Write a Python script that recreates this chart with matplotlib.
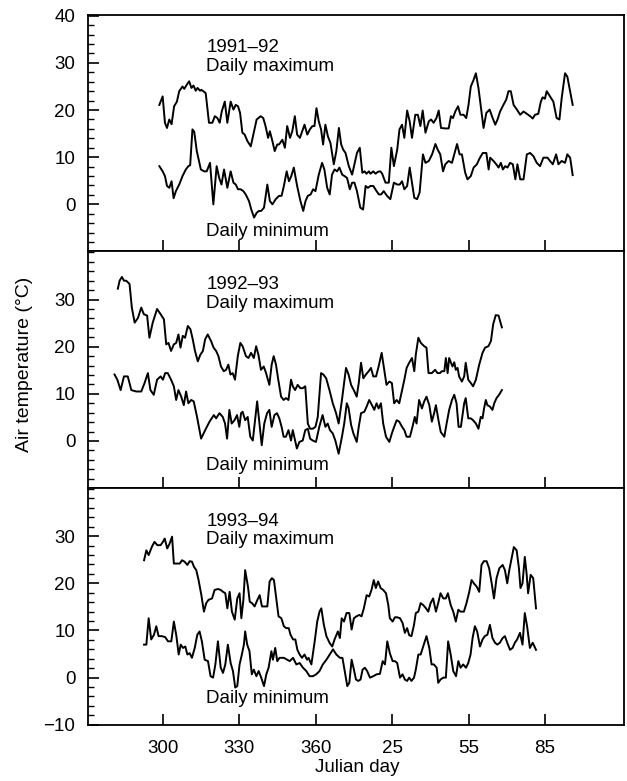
import matplotlib
matplotlib.use("Agg")
import matplotlib.pyplot as plt
from matplotlib.ticker import MultipleLocator, FixedLocator

# Daily air temperature (Julian day; days after 365 continue into next year)

# 1991-92
days_max_1 = [298.6, 299.9, 300.8, 301.6, 302.5, 303.4, 304.4, 305.5, 306.4, 307.7, 308.4, 309.4, 310.3,
              311.2, 312.0, 312.9, 313.6, 314.6, 315.1, 316.8, 318.1, 319.4, 320.4, 321.4, 322.3, 323.1,
              324.3, 325.3, 326.6, 327.7, 328.6, 329.5, 330.3, 331.2, 332.1, 333.2, 334.5, 335.8, 336.8,
              338.4, 339.4, 340.3, 341.3, 342.0, 343.0, 343.9, 344.9, 345.6, 346.9, 347.9, 348.8, 349.9,
              350.8, 351.8, 352.7, 353.8, 354.7, 355.6, 356.7, 357.7, 358.7, 359.5, 360.3, 361.2, 362.1,
              362.9, 363.8, 364.8, 365.8, 367.1, 368.1, 369.1, 370.0, 370.8, 371.7, 373.0, 374.3, 375.2,
              376.2, 377.3, 378.3, 379.2, 379.9, 380.9, 381.5, 382.6, 383.5, 384.4, 385.4, 386.1, 387.4,
              388.7, 389.7, 390.7, 392.0, 392.9, 393.9, 394.8, 395.9, 396.9, 397.8, 399.1, 400.1, 401.1,
              402.0, 403.1, 404.4, 405.3, 406.3, 407.4, 408.3, 409.2, 410.9, 412.2, 413.1, 413.9, 414.8,
              415.9, 416.8, 418.1, 419.1, 420.0, 420.9, 422.0, 422.9, 423.9, 424.9, 425.9, 427.0, 428.3,
              429.2, 430.5, 431.4, 432.4, 433.7, 434.8, 435.7, 436.6, 437.7, 439.0, 440.3, 441.6, 442.9,
              444.2, 445.2, 446.1, 447.4, 448.4, 449.1, 450.0, 450.7, 452.0, 453.3, 454.6, 455.7, 456.6,
              457.9, 458.8, 459.9, 460.9]
tmax_1 = [21.1, 22.9, 17.3, 16.2, 18.0, 17.0, 20.8, 21.8, 24.0, 25.0, 24.5, 25.4, 26.1,
          24.7, 25.2, 24.1, 24.7, 24.1, 24.3, 23.6, 17.3, 17.3, 18.7, 18.3, 17.3, 19.7,
          21.8, 17.3, 21.8, 20.1, 21.1, 20.8, 19.4, 15.2, 14.8, 13.4, 12.3, 15.5, 18.0,
          18.7, 18.3, 16.6, 14.1, 15.5, 13.4, 11.3, 12.7, 12.7, 13.7, 12.0, 16.6, 14.1,
          15.5, 18.7, 14.8, 14.1, 15.5, 16.9, 14.8, 15.9, 16.6, 16.6, 20.4, 17.6, 15.9,
          12.7, 16.9, 14.4, 13.0, 8.5, 11.3, 16.2, 12.7, 11.6, 10.9, 8.1, 6.3, 8.5,
          10.9, 12.0, 6.7, 7.0, 6.5, 7.0, 6.5, 7.0, 6.5, 6.9, 7.0, 6.5, 4.6,
          4.6, 12.0, 8.1, 11.6, 15.9, 16.9, 14.1, 19.9, 17.6, 14.1, 19.0, 19.0, 16.6,
          19.9, 15.2, 17.6, 18.0, 17.3, 18.3, 19.9, 16.2, 16.1, 16.1, 18.7, 18.3, 19.7,
          20.8, 19.0, 19.0, 18.3, 21.1, 25.0, 26.4, 27.8, 24.7, 20.4, 16.2, 19.4, 20.1,
          18.7, 16.9, 18.0, 19.7, 21.1, 22.2, 24.0, 24.0, 21.1, 20.1, 19.0, 19.7, 19.2,
          18.7, 18.2, 19.0, 19.2, 21.8, 22.7, 22.4, 24.0, 22.9, 21.8, 18.3, 18.0, 22.6,
          27.8, 27.1, 24.0, 21.1]
days_min_1 = [298.6, 299.9, 300.8, 301.6, 302.5, 303.4, 304.2, 305.1, 306.4, 307.7, 309.0, 310.0, 310.7,
              311.6, 312.3, 313.3, 314.9, 316.2, 317.2, 318.5, 319.8, 321.1, 322.1, 323.0, 324.0, 325.3,
              326.6, 327.7, 328.6, 329.5, 330.5, 331.6, 332.5, 333.8, 334.7, 335.8, 336.8, 337.7, 338.6,
              339.7, 341.0, 342.0, 343.0, 344.3, 345.6, 346.6, 347.5, 348.6, 349.5, 350.4, 351.4, 352.7,
              354.0, 355.1, 356.0, 356.9, 358.0, 359.0, 359.9, 361.2, 362.5, 363.4, 364.5, 365.5, 366.4,
              367.4, 368.4, 369.3, 370.4, 371.3, 372.3, 373.4, 374.3, 375.2, 376.2, 377.5, 378.6, 379.6,
              380.5, 381.5, 382.6, 383.9, 384.8, 385.7, 386.7, 388.0, 389.3, 390.7, 392.0, 393.0, 393.9,
              394.8, 395.9, 396.9, 397.8, 398.7, 399.8, 400.8, 402.1, 403.1, 404.4, 405.7, 407.0, 407.9,
              408.9, 410.0, 410.9, 412.2, 413.5, 414.4, 415.5, 416.5, 417.4, 418.7, 419.6, 420.9, 422.0,
              423.3, 424.3, 425.6, 427.0, 427.9, 428.5, 429.8, 430.9, 431.8, 432.7, 433.5, 434.4, 435.3,
              436.3, 437.4, 438.4, 439.2, 440.3, 441.6, 442.9, 444.2, 445.5, 446.8, 448.1, 449.4, 451.0,
              452.0, 453.1, 454.4, 455.3, 456.6, 457.9, 458.8, 459.9, 460.9]
tmin_1 = [8.1, 7.0, 6.0, 3.9, 3.5, 4.9, 1.3, 2.8, 4.2, 6.0, 7.4, 8.1, 8.3,
          15.9, 15.4, 11.3, 7.4, 7.0, 7.0, 8.8, 0.0, 8.1, 5.6, 4.2, 7.4, 3.5,
          7.0, 4.6, 4.2, 3.2, 3.2, 2.8, 2.1, 0.7, -1.1, -2.8, -1.8, -1.4, -1.4,
          -0.7, 4.2, 0.7, 0.0, 1.1, 1.8, 1.8, 3.9, 7.0, 4.9, 6.0, 7.8, 3.9,
          0.7, -1.4, 0.7, 1.8, 2.1, 3.2, 2.8, 6.3, 8.8, 7.4, 3.5, 2.1, 6.3,
          7.4, 7.0, 7.8, 6.3, 6.0, 5.6, 3.2, 4.6, 4.6, 2.8, -0.7, -1.1, 3.9,
          3.5, 3.9, 3.9, 2.8, 2.1, 2.1, 2.8, 1.8, 1.1, 4.6, 4.2, 4.2, 4.9,
          3.2, 3.9, 7.8, 4.6, 1.4, 1.1, 2.5, 10.6, 8.8, 9.2, 10.6, 12.8, 11.6,
          10.6, 7.0, 8.5, 9.2, 8.8, 10.6, 12.8, 10.6, 10.6, 6.7, 5.3, 6.0, 7.8,
          8.5, 9.7, 10.9, 10.9, 7.4, 9.9, 9.2, 8.5, 7.8, 8.8, 7.4, 8.1, 7.8,
          8.8, 8.5, 5.3, 8.5, 5.3, 5.3, 10.6, 10.9, 10.2, 8.8, 8.1, 9.9, 9.9,
          9.2, 8.5, 10.6, 8.5, 9.2, 8.8, 10.6, 9.9, 6.2]

# 1992-93
days_max_2 = [282.3, 283.0, 283.9, 284.7, 285.6, 286.9, 287.8, 288.9, 290.2, 291.5, 292.5, 293.8, 294.7,
              296.0, 297.7, 299.1, 300.4, 301.3, 302.2, 303.2, 304.3, 305.2, 306.1, 306.9, 307.8, 308.7,
              309.8, 310.8, 311.7, 312.6, 313.7, 314.7, 315.7, 316.6, 317.6, 318.9, 319.9, 320.9, 321.8,
              322.8, 323.9, 324.8, 325.7, 326.5, 327.4, 328.3, 329.4, 330.4, 331.3, 332.6, 333.6, 334.6,
              335.7, 336.6, 337.5, 338.5, 339.6, 340.5, 341.8, 342.7, 343.5, 344.4, 345.3, 346.4, 347.4,
              348.3, 349.3, 350.3, 351.0, 351.9, 352.9, 354.0, 354.9, 355.9, 356.9, 357.8, 358.8, 359.9,
              360.8, 362.1, 363.0, 364.1, 365.4, 366.7, 368.0, 369.0, 370.3, 371.9, 372.9, 373.9, 375.2,
              376.1, 376.9, 377.8, 378.7, 379.7, 380.8, 381.7, 382.6, 383.7, 384.7, 385.9, 386.9, 387.8,
              388.9, 389.9, 390.8, 391.8, 392.8, 393.9, 394.8, 395.7, 396.7, 397.8, 398.7, 399.3, 400.3,
              401.3, 402.6, 403.5, 404.3, 405.6, 406.9, 407.8, 408.8, 409.5, 410.5, 411.1, 411.8, 412.4,
              413.1, 413.7, 414.4, 415.0, 415.7, 416.3, 417.4, 418.3, 418.9, 419.9, 420.9, 421.8, 422.9,
              424.2, 425.5, 426.5, 427.8, 428.8, 429.7, 430.7, 431.8, 433.1]
tmax_2 = [32.3, 34.0, 34.8, 34.0, 34.0, 33.3, 28.3, 25.1, 26.1, 28.3, 26.9, 26.6, 21.9,
          25.1, 28.0, 26.9, 25.8, 20.5, 20.8, 19.1, 20.5, 20.8, 22.6, 19.8, 22.3, 21.9,
          24.4, 23.7, 21.6, 19.1, 16.9, 18.3, 19.1, 21.6, 22.6, 21.2, 19.8, 19.1, 18.0,
          15.8, 14.8, 15.1, 16.2, 14.1, 14.4, 13.0, 18.0, 20.8, 20.1, 18.0, 17.6, 18.7,
          17.6, 20.1, 18.3, 15.1, 15.8, 14.4, 11.9, 16.2, 18.0, 16.2, 13.0, 9.4, 8.7,
          9.1, 8.7, 13.0, 11.6, 10.8, 11.9, 11.2, 11.2, 11.6, 3.7, 2.6, 2.6, 3.0,
          5.1, 14.4, 14.1, 13.3, 10.8, 8.0, 5.9, 3.7, 8.7, 15.5, 14.1, 11.9, 10.5,
          9.4, 12.3, 16.6, 13.3, 14.1, 14.8, 15.5, 13.7, 13.7, 15.8, 18.7, 15.1, 11.9,
          12.6, 12.3, 8.0, 8.7, 8.0, 10.8, 13.0, 15.5, 16.6, 17.6, 14.8, 18.3, 21.9,
          20.8, 20.1, 19.8, 14.4, 14.4, 15.1, 14.4, 14.4, 14.8, 14.8, 17.6, 14.4, 17.6,
          16.6, 15.8, 16.7, 15.1, 15.5, 13.7, 12.6, 13.7, 16.6, 13.0, 12.3, 11.6, 13.0,
          16.2, 18.7, 19.8, 20.1, 21.2, 24.8, 26.7, 26.6, 24.1]
days_min_2 = [281.0, 282.1, 283.4, 284.7, 286.2, 287.6, 289.5, 291.5, 292.8, 294.1, 295.1, 296.4, 297.7,
              299.1, 300.0, 300.9, 301.9, 303.2, 304.3, 305.2, 306.1, 307.2, 308.2, 309.1, 310.0, 311.1,
              312.1, 313.4, 315.0, 316.6, 318.3, 320.0, 320.9, 322.2, 323.5, 324.4, 325.2, 326.1, 327.0,
              328.1, 329.1, 330.0, 330.7, 331.3, 332.3, 333.3, 334.3, 335.3, 335.9, 337.0, 337.9, 338.8,
              339.8, 340.9, 341.8, 342.7, 343.8, 344.8, 345.7, 346.6, 347.4, 348.3, 349.3, 350.3, 351.0,
              351.9, 352.6, 353.6, 354.9, 355.9, 356.9, 357.8, 358.8, 360.1, 361.4, 362.7, 363.8, 364.7,
              365.6, 366.7, 367.7, 369.0, 370.3, 371.2, 372.2, 372.9, 373.9, 374.8, 376.1, 376.9, 377.8,
              379.1, 380.0, 381.0, 382.1, 383.0, 383.9, 384.7, 385.6, 386.5, 387.6, 388.9, 389.9, 390.8,
              391.8, 392.8, 393.9, 394.8, 395.7, 397.0, 398.0, 398.9, 399.6, 400.6, 401.7, 402.6, 403.5,
              404.6, 405.6, 406.5, 407.2, 408.2, 409.1, 410.5, 411.4, 412.4, 413.5, 414.4, 415.3, 416.1,
              417.0, 418.3, 418.9, 419.9, 420.9, 421.8, 422.9, 423.9, 424.8, 425.5, 426.1, 426.8, 427.4,
              428.4, 429.4, 430.1, 431.0, 432.0, 433.1]
tmin_2 = [14.1, 13.0, 10.8, 13.7, 13.7, 10.8, 10.5, 10.5, 12.3, 14.4, 10.8, 9.8, 13.0,
          13.7, 13.0, 14.4, 14.4, 13.0, 11.6, 8.7, 10.8, 9.4, 7.6, 10.5, 8.0, 8.7,
          8.4, 5.1, 0.5, 2.3, 4.1, 5.5, 4.8, 5.9, 5.1, 3.7, 0.5, 6.6, 3.7,
          4.4, 5.5, 3.0, 5.9, 6.2, 4.4, 5.1, 0.9, 0.1, 3.0, 8.4, 3.7, -0.9,
          3.7, 5.9, 6.6, 3.0, 5.5, 5.9, 4.8, 3.0, 0.9, 0.9, 2.3, 0.1, 2.3,
          0.1, -1.6, -0.2, 0.1, 2.3, 2.6, 0.5, 0.1, -0.2, 3.0, 5.5, 3.0, 3.7,
          2.3, 1.6, 0.1, -2.7, 0.9, 3.7, 8.0, 7.0, 3.4, 1.6, -0.2, 3.0, 5.9,
          6.2, 7.3, 8.7, 7.6, 6.6, 8.0, 6.9, 8.0, 3.7, 0.9, -0.2, 1.6, 3.0,
          4.4, 4.1, 3.0, 2.3, 0.9, 0.9, 3.0, 5.1, 3.7, 8.7, 6.9, 8.4, 9.4,
          7.6, 4.1, 5.9, 7.6, 4.4, 1.9, 0.9, 3.7, 6.6, 8.7, 9.8, 8.0, 3.0,
          3.0, 8.0, 9.1, 4.8, 4.8, 4.4, 3.7, 2.6, 5.1, 4.8, 6.9, 8.7, 7.6,
          7.3, 6.6, 8.0, 9.1, 9.8, 10.8]

# 1993-94
days_max_3 = [292.6, 293.5, 294.4, 295.7, 296.7, 297.8, 299.1, 300.0, 300.7, 301.7, 302.6, 303.6, 304.3,
              305.6, 306.6, 307.5, 308.5, 309.6, 310.5, 311.4, 312.2, 313.1, 314.0, 315.1, 316.1, 317.0,
              317.9, 319.3, 320.3, 321.6, 322.7, 323.6, 324.5, 325.3, 326.2, 327.1, 328.2, 329.2, 330.1,
              330.8, 331.6, 332.3, 333.4, 334.1, 335.0, 336.0, 337.1, 338.0, 338.9, 340.0, 341.0, 341.9,
              342.8, 343.6, 344.5, 345.4, 346.5, 347.5, 348.4, 349.4, 350.1, 351.1, 352.0, 352.8, 353.7,
              354.6, 355.6, 356.6, 357.2, 358.3, 359.6, 360.6, 361.5, 362.2, 363.2, 364.2, 365.5, 366.5,
              367.4, 368.7, 369.5, 370.2, 371.1, 372.1, 373.2, 374.1, 375.0, 376.0, 377.1, 378.0, 378.9,
              380.0, 381.0, 381.9, 382.8, 383.6, 384.5, 385.5, 386.5, 387.6, 388.5, 389.1, 390.2, 391.1,
              392.0, 393.1, 394.1, 395.0, 395.9, 396.7, 397.6, 398.6, 399.3, 400.3, 401.2, 402.2, 403.3,
              404.2, 405.1, 406.1, 407.2, 408.1, 409.0, 410.1, 411.1, 411.9, 413.0, 414.0, 415.0, 416.0,
              416.9, 418.2, 419.2, 420.3, 421.2, 422.1, 423.2, 424.2, 425.1, 426.0, 427.1, 428.1, 429.1,
              430.0, 431.0, 432.1, 433.4, 434.3, 435.2, 436.0, 436.9, 437.8, 438.9, 439.8, 440.4, 441.2,
              442.1, 442.8, 443.4, 444.4, 445.4, 446.5]
tmax_3 = [24.9, 27.0, 26.0, 27.8, 28.8, 28.1, 28.1, 28.8, 29.5, 27.4, 28.4, 29.9, 24.2,
          24.2, 24.2, 24.9, 24.6, 23.9, 24.7, 24.6, 23.5, 22.8, 20.7, 17.5, 14.0, 15.8,
          16.5, 16.8, 18.6, 18.8, 18.6, 18.2, 17.9, 14.7, 18.2, 14.0, 12.3, 16.8, 17.9,
          12.6, 16.5, 22.8, 19.3, 16.1, 15.8, 15.1, 16.5, 17.5, 15.1, 15.1, 15.1, 20.4,
          21.1, 20.7, 16.8, 13.0, 12.6, 10.9, 10.5, 10.5, 9.1, 8.1, 8.1, 5.9, 4.9,
          4.2, 4.9, 3.8, 4.2, 2.8, 7.7, 11.9, 14.0, 14.7, 11.2, 8.8, 7.3, 6.6,
          8.1, 9.8, 8.4, 12.6, 11.9, 13.7, 13.7, 10.2, 12.6, 13.0, 13.3, 13.0, 14.7,
          17.5, 17.2, 18.6, 20.7, 19.0, 20.4, 19.0, 18.6, 17.9, 15.4, 12.6, 11.9, 12.8,
          12.8, 12.6, 11.6, 9.5, 10.5, 9.0, 8.8, 11.2, 13.7, 14.0, 15.8, 15.4, 14.7,
          14.0, 15.8, 16.8, 14.0, 15.8, 17.9, 16.8, 16.8, 17.9, 15.4, 14.0, 11.9, 14.4,
          14.0, 14.0, 15.8, 18.2, 20.7, 20.0, 19.3, 18.2, 23.9, 24.7, 24.7, 23.2, 20.0,
          16.8, 21.1, 23.2, 23.9, 22.8, 20.0, 22.8, 25.3, 27.7, 27.0, 23.2, 19.0, 20.0,
          25.6, 22.1, 17.9, 21.8, 21.1, 14.7]
days_min_3 = [292.6, 293.5, 294.4, 295.4, 296.5, 297.4, 298.3, 299.6, 300.9, 302.0, 303.3, 304.3, 305.3,
              306.2, 307.0, 307.9, 308.8, 309.6, 310.5, 311.4, 312.5, 313.5, 314.4, 315.3, 316.4, 317.7,
              318.7, 319.7, 320.6, 321.6, 322.7, 323.6, 324.5, 325.5, 326.6, 327.5, 328.4, 329.2, 330.1,
              331.0, 331.8, 332.3, 333.1, 334.0, 334.9, 335.7, 336.7, 337.6, 338.6, 339.7, 340.6, 341.5,
              342.6, 343.2, 344.1, 344.9, 345.8, 347.5, 348.8, 349.8, 351.1, 352.4, 353.7, 355.0, 356.3,
              357.6, 358.9, 360.2, 361.5, 362.8, 364.2, 365.5, 366.8, 368.1, 369.5, 370.5, 371.5, 372.4,
              373.2, 374.1, 375.0, 375.8, 376.7, 377.6, 378.4, 379.3, 380.2, 381.3, 382.6, 383.9, 385.2,
              386.3, 387.2, 388.1, 389.1, 390.2, 391.1, 392.0, 393.1, 394.1, 395.0, 395.9, 396.7, 397.6,
              398.6, 399.3, 400.3, 401.2, 402.2, 403.5, 404.6, 405.5, 406.4, 407.5, 408.1, 409.0, 410.1,
              411.1, 412.0, 413.0, 414.0, 415.1, 416.0, 416.9, 417.9, 419.0, 419.9, 420.8, 421.6, 422.5,
              423.4, 424.5, 425.5, 426.4, 427.4, 428.4, 429.4, 430.4, 431.3, 432.3, 433.4, 434.3, 435.2,
              436.3, 437.3, 438.2, 439.1, 440.2, 441.2, 442.1, 443.0, 444.1, 445.2, 446.5]
tmin_3 = [7.0, 7.0, 12.6, 8.1, 9.1, 10.9, 8.8, 8.8, 8.6, 7.7, 7.7, 11.9, 8.8,
          4.9, 7.0, 6.3, 6.6, 4.9, 5.2, 4.2, 6.3, 9.1, 9.8, 7.7, 3.8, 3.5,
          0.3, 0.0, 2.8, 7.7, 2.1, 1.0, 2.8, 7.0, 3.1, 1.4, -2.1, -1.8, 2.8,
          4.9, 7.0, 9.8, 7.0, 5.6, 0.7, 1.7, 0.3, 1.4, 0.0, -1.8, 0.7, 2.1,
          5.6, 3.8, 6.3, 3.5, 4.2, 4.2, 3.8, 3.5, 4.2, 2.8, 3.1, 2.1, 1.4,
          0.3, 0.3, 0.7, 1.4, 2.8, 3.8, 4.9, 6.0, 4.9, 4.2, 4.2, 1.0, -1.8,
          -1.1, 3.8, 1.7, -0.4, -0.7, -0.4, 1.7, 2.1, 1.4, 0.0, 0.3, 0.7, 0.8,
          3.5, 2.8, 7.7, 5.2, 3.5, 3.5, 3.1, 0.0, 0.7, -0.4, -0.7, 0.0, -0.7,
          0.0, 1.7, 4.9, 4.9, 6.6, 8.8, 6.3, 2.8, 2.8, 2.1, -1.1, -0.4, 0.0,
          0.0, 7.7, 4.9, 1.4, 0.3, 3.5, 2.1, 2.8, 2.1, 3.1, 4.9, 8.4, 10.9,
          9.8, 6.6, 8.1, 8.8, 9.1, 11.2, 8.4, 7.4, 7.0, 7.4, 8.4, 8.8, 7.4,
          5.9, 6.3, 7.4, 8.1, 9.5, 7.0, 13.7, 10.9, 6.3, 7.4, 5.9]

seasons = ["1991\u201392", "1992\u201393", "1993\u201394"]
xtick_pos = [300, 330, 360, 390, 420, 450]
xtick_labels = ["300", "330", "360", "25", "55", "85"]
ytick_sets = [[0, 10, 20, 30, 40], [0, 10, 20, 30], [-10, 0, 10, 20, 30]]

series = [(days_max_1, tmax_1, days_min_1, tmin_1),
          (days_max_2, tmax_2, days_min_2, tmin_2),
          (days_max_3, tmax_3, days_min_3, tmin_3)]

# label heights per panel (data units)
min_label_y = [-5.8, -5.1, -4.4]

plt.rcParams["font.family"] = ["Liberation Sans", "DejaVu Sans"]
plt.rcParams["font.size"] = 13.5

fig, axes = plt.subplots(3, 1, figsize=(6.27, 7.81), dpi=100, sharex=True)
fig.subplots_adjust(left=0.14, right=0.995, bottom=0.072, top=0.981, hspace=0)

for ax, (dmx, tmx, dmn, tmn), season, yt, ymin_lab in zip(axes, series, seasons, ytick_sets, min_label_y):
    ax.plot(dmx, tmx, color="black", lw=1.4)
    ax.plot(dmn, tmn, color="black", lw=1.4)
    ax.set_xlim(270.5, 481)
    ax.set_ylim(-10, 40.2)
    ax.yaxis.set_major_locator(FixedLocator(yt))
    ax.yaxis.set_minor_locator(MultipleLocator(2))
    ax.set_xticks(xtick_pos)
    ax.set_xticklabels(xtick_labels)
    ax.tick_params(axis="y", which="major", direction="in", length=8, width=1.2, pad=9)
    ax.tick_params(axis="y", which="minor", direction="in", length=4.5, width=1.0)
    ax.tick_params(axis="x", which="major", direction="in", length=8, width=1.2, pad=11)
    for s in ax.spines.values():
        s.set_linewidth(1.3)
    ax.text(317, 33.2, season, ha="left", va="center")
    ax.text(317, 29.2, "Daily maximum", ha="left", va="center")
    ax.text(317, ymin_lab, "Daily minimum", ha="left", va="center")

fig.text(25 / 627, 1 - 364 / 781, "Air temperature (\u00b0C)", rotation=90, ha="center", va="center", fontsize=14)
fig.text(357 / 627, 1 - 768 / 781, "Julian day", ha="center", va="center", fontsize=13.5)

plt.savefig("out.png", dpi=100)
